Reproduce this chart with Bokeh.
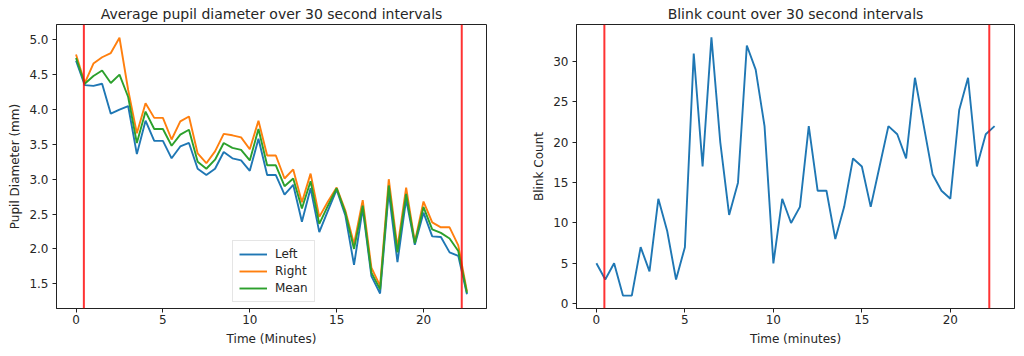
from bokeh.plotting import figure
from bokeh.layouts import row
from bokeh.models import Span, FixedTicker, PrintfTickFormatter, Range1d
from bokeh.embed import file_html
from bokeh.resources import INLINE

# ---- data ----
minutes = [0.0, 0.5, 1.0, 1.5, 2.0, 2.5, 3.0, 3.5, 4.0, 4.5, 5.0, 5.5, 6.0, 6.5, 7.0, 7.5,
           8.0, 8.5, 9.0, 9.5, 10.0, 10.5, 11.0, 11.5, 12.0, 12.5, 13.0, 13.5, 14.0, 14.5,
           15.0, 15.5, 16.0, 16.5, 17.0, 17.5, 18.0, 18.5, 19.0, 19.5, 20.0, 20.5, 21.0,
           21.5, 22.0, 22.5]

pupil_left = [4.70, 4.35, 4.34, 4.37, 3.94, 4.00, 4.05, 3.36, 3.84, 3.55, 3.55, 3.30, 3.47,
              3.52, 3.15, 3.06, 3.15, 3.39, 3.30, 3.27, 3.12, 3.58, 3.06, 3.06, 2.78, 2.92,
              2.39, 2.87, 2.24, 2.55, 2.85, 2.48, 1.77, 2.58, 1.61, 1.36, 2.82, 1.81, 2.71,
              2.06, 2.52, 2.18, 2.17, 1.95, 1.90, 1.35]

pupil_right = [4.79, 4.38, 4.66, 4.75, 4.81, 5.03, 4.28, 3.66, 4.09, 3.88, 3.88, 3.57, 3.83,
               3.90, 3.37, 3.23, 3.40, 3.65, 3.63, 3.60, 3.43, 3.84, 3.34, 3.34, 3.01, 3.14,
               2.67, 3.08, 2.46, 2.68, 2.88, 2.55, 2.07, 2.70, 1.73, 1.47, 3.00, 2.02, 2.88,
               2.10, 2.68, 2.38, 2.31, 2.31, 2.05, 1.39]

pupil_mean = [4.74, 4.37, 4.48, 4.56, 4.38, 4.50, 4.18, 3.52, 3.97, 3.72, 3.72, 3.48, 3.64,
              3.71, 3.25, 3.15, 3.28, 3.52, 3.45, 3.42, 3.27, 3.72, 3.20, 3.20, 2.90, 3.01,
              2.58, 2.97, 2.36, 2.62, 2.87, 2.52, 2.00, 2.62, 1.66, 1.42, 2.91, 1.95, 2.79,
              2.08, 2.60, 2.28, 2.23, 2.15, 1.97, 1.37]

blink_count = [5, 3, 5, 1, 1, 7, 4, 13, 9, 3, 7, 31, 17, 33, 20, 11, 15, 32, 29, 22, 5, 13,
               10, 12, 22, 14, 14, 8, 12, 18, 17, 12, 17, 22, 21, 18, 28, 22, 16, 14, 13, 24,
               28, 17, 21, 22]

event_markers = [0.45, 22.2]

x_ticks = [0, 5, 10, 15, 20]
pupil_ticks = [1.5, 2.0, 2.5, 3.0, 3.5, 4.0, 4.5, 5.0]
blink_ticks = [0, 5, 10, 15, 20, 25, 30]

FONT = "DejaVu Sans"
TXT = "#262626"


def style(p, xlabel, ylabel):
    p.grid.visible = False
    p.outline_line_color = "#222222"
    p.outline_line_width = 1
    p.title.text_font = FONT
    p.title.text_font_size = "14px"
    p.title.text_font_style = "normal"
    p.title.text_color = TXT
    p.title.align = "center"
    p.title.standoff = 6
    for ax in (p.xaxis[0], p.yaxis[0]):
        ax.major_label_text_font = FONT
        ax.major_label_text_font_size = "12px"
        ax.major_label_text_color = TXT
        ax.axis_label_text_font = FONT
        ax.axis_label_text_font_size = "12px"
        ax.axis_label_text_font_style = "normal"
        ax.axis_label_text_color = TXT
        ax.axis_line_color = "#222222"
        ax.major_tick_line_color = "#222222"
        ax.major_tick_in = 0
        ax.major_tick_out = 4
        ax.minor_tick_line_color = None
        ax.major_label_standoff = 2
        ax.axis_label_standoff = 5
    p.yaxis.major_label_standoff = 4
    p.yaxis.axis_label_standoff = 4
    p.xaxis.axis_label = xlabel
    p.yaxis.axis_label = ylabel
    p.xaxis.ticker = FixedTicker(ticks=x_ticks)


# ---- left plot ----
p1 = figure(width=527, height=348, output_backend="svg", toolbar_location=None,
            title="Average pupil diameter over 30 second intervals",
            x_range=Range1d(-1.125, 23.625), y_range=Range1d(1.145, 5.22),
            min_border_left=56, min_border_right=41, min_border_top=22, min_border_bottom=32)
p1.line(minutes, pupil_left, line_color="#1f77b4", line_width=1.9, legend_label="Left")
p1.line(minutes, pupil_right, line_color="#ff7f0e", line_width=1.9, legend_label="Right")
p1.line(minutes, pupil_mean, line_color="#2ca02c", line_width=1.9, legend_label="Mean")
for m in event_markers:
    p1.add_layout(Span(location=m, dimension="height", line_color="red",
                       line_width=2, line_alpha=0.8))
style(p1, "Time (Minutes)", "Pupil Diameter (mm)")
p1.yaxis.ticker = FixedTicker(ticks=pupil_ticks)
p1.yaxis.formatter = PrintfTickFormatter(format="%.1f")
lg = p1.legend[0]
lg.location = (176, 6)
lg.label_text_font = FONT
lg.label_text_font_size = "12px"
lg.label_text_color = TXT
lg.glyph_width = 28
lg.glyph_height = 14
lg.label_standoff = 8
lg.spacing = 3
lg.padding = 6
lg.margin = 0
lg.border_line_color = "#cccccc"
lg.background_fill_alpha = 0.8

# ---- right plot ----
p2 = figure(width=488, height=348, output_backend="svg", toolbar_location=None,
            title="Blink count over 30 second intervals",
            x_range=Range1d(-1.125, 23.625), y_range=Range1d(-0.6, 34.6),
            min_border_left=49, min_border_right=1, min_border_top=22, min_border_bottom=32)
p2.line(minutes, blink_count, line_color="#1f77b4", line_width=1.9)
for m in event_markers:
    p2.add_layout(Span(location=m, dimension="height", line_color="red",
                       line_width=2, line_alpha=0.8))
style(p2, "Time (minutes)", "Blink Count")
p2.yaxis.ticker = FixedTicker(ticks=blink_ticks)

layout = row(p1, p2)
open("out.html", "w").write(file_html(layout, INLINE))
